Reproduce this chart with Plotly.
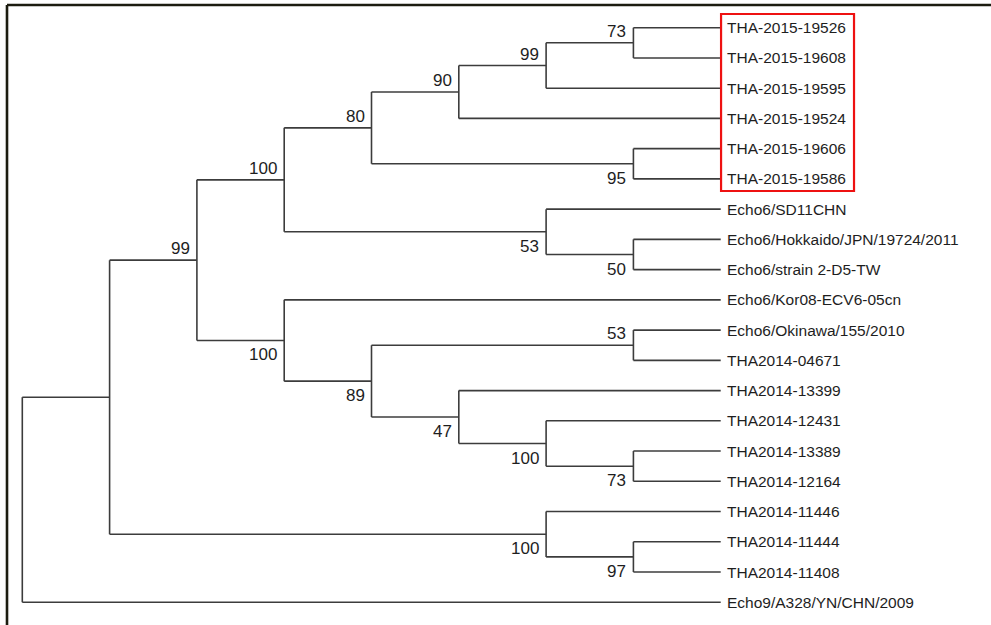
import plotly.graph_objects as go

# ---- data ----
leaf_names = [
    "THA-2015-19526", "THA-2015-19608", "THA-2015-19595", "THA-2015-19524",
    "THA-2015-19606", "THA-2015-19586", "Echo6/SD11CHN",
    "Echo6/Hokkaido/JPN/19724/2011", "Echo6/strain 2-D5-TW",
    "Echo6/Kor08-ECV6-05cn", "Echo6/Okinawa/155/2010", "THA2014-04671",
    "THA2014-13399", "THA2014-12431", "THA2014-13389", "THA2014-12164",
    "THA2014-11446", "THA2014-11444", "THA2014-11408", "Echo9/A328/YN/CHN/2009",
]
node_ids = ["R", "A", "B", "C", "D", "D1", "D11", "D111", "D2", "E", "F",
            "G", "H", "I", "J", "L", "M", "K", "N"]
node_children = [
    ["A", "Echo9/A328/YN/CHN/2009"],
    ["B", "K"],
    ["C", "G"],
    ["D", "E"],
    ["D1", "D2"],
    ["D11", "THA-2015-19524"],
    ["D111", "THA-2015-19595"],
    ["THA-2015-19526", "THA-2015-19608"],
    ["THA-2015-19606", "THA-2015-19586"],
    ["Echo6/SD11CHN", "F"],
    ["Echo6/Hokkaido/JPN/19724/2011", "Echo6/strain 2-D5-TW"],
    ["Echo6/Kor08-ECV6-05cn", "H"],
    ["I", "J"],
    ["Echo6/Okinawa/155/2010", "THA2014-04671"],
    ["THA2014-13399", "L"],
    ["THA2014-12431", "M"],
    ["THA2014-13389", "THA2014-12164"],
    ["THA2014-11446", "N"],
    ["THA2014-11444", "THA2014-11408"],
]
node_support = [None, None, 99, 100, 80, 90, 99, 73, 95, 53, 50,
                100, 89, 53, 47, 100, 73, 100, 97]
highlighted = leaf_names[0:6]

# ---- layout computation (cladogram) ----
children = dict(zip(node_ids, node_children))
support = dict(zip(node_ids, node_support))
ypos = {name: i for i, name in enumerate(leaf_names)}
height = {name: 0 for name in leaf_names}


def resolve(n):
    if n in height:
        return
    for c in children[n]:
        resolve(c)
    ypos[n] = (ypos[children[n][0]] + ypos[children[n][-1]]) / 2
    height[n] = 1 + max(height[c] for c in children[n])


resolve("R")
max_h = height["R"]
xpos = {n: max_h - h for n, h in height.items()}
parent = {c: p for p, cs in children.items() for c in cs}

xs, ys = [], []
for n in node_ids:
    cs = children[n]
    xs += [xpos[n], xpos[n], None]
    ys += [ypos[cs[0]], ypos[cs[-1]], None]
    for c in cs:
        xs += [xpos[n], xpos[c], None]
        ys += [ypos[c], ypos[c], None]

fig = go.Figure()
fig.add_trace(go.Scatter(x=xs, y=ys, mode="lines",
                         line=dict(color="#3c3c3c", width=1.6),
                         hoverinfo="skip", showlegend=False))

annotations = []
for n in leaf_names:
    annotations.append(dict(x=xpos[n], y=ypos[n], text=n, showarrow=False,
                            xanchor="left", yanchor="middle", xshift=4,
                            font=dict(family="Liberation Sans, Arial", size=15.5,
                                      color="#1e1e1e")))
for n in node_ids:
    s = support[n]
    if s is None:
        continue
    p = parent[n]
    first = children[p][0] == n
    annotations.append(dict(x=xpos[n], y=ypos[n], text=str(s), showarrow=False,
                            xanchor="right", yanchor="middle", xshift=-5,
                            yshift=11.5 if first else -14.5,
                            font=dict(family="Liberation Sans, Arial", size=17,
                                      color="#1e1e1e")))

# red highlight box around the highlighted clade
hy = [ypos[n] for n in highlighted]
shapes = [
    dict(type="rect", xref="x", yref="y", x0=max_h + 0.004, x1=max_h + 1.527,
         y0=min(hy) - 0.453, y1=max(hy) + 0.40,
         line=dict(color="#ee1111", width=2.2)),
    # frame (top and left)
    dict(type="line", xref="paper", yref="paper", x0=7 / 991, x1=7 / 991,
         y0=0, y1=1 - 5 / 625, line=dict(color="#1c1c10", width=2.6)),
    dict(type="line", xref="paper", yref="paper", x0=7 / 991, x1=1,
         y0=1 - 5 / 625, y1=1 - 5 / 625, line=dict(color="#1c1c10", width=2.6)),
]

fig.update_layout(
    width=991, height=625,
    margin=dict(l=0, r=0, t=0, b=0),
    paper_bgcolor="white", plot_bgcolor="white",
    xaxis=dict(range=[-0.2554, 11.096], visible=False, fixedrange=True),
    yaxis=dict(range=[19.752, -0.916], visible=False, fixedrange=True),
    annotations=annotations, shapes=shapes,
    hovermode=False,
)
fig.write_html("out.html",
               config={"displayModeBar": False, "staticPlot": True},
               post_script="document.body.style.margin='0';"
                           "document.body.style.overflow='hidden';")
